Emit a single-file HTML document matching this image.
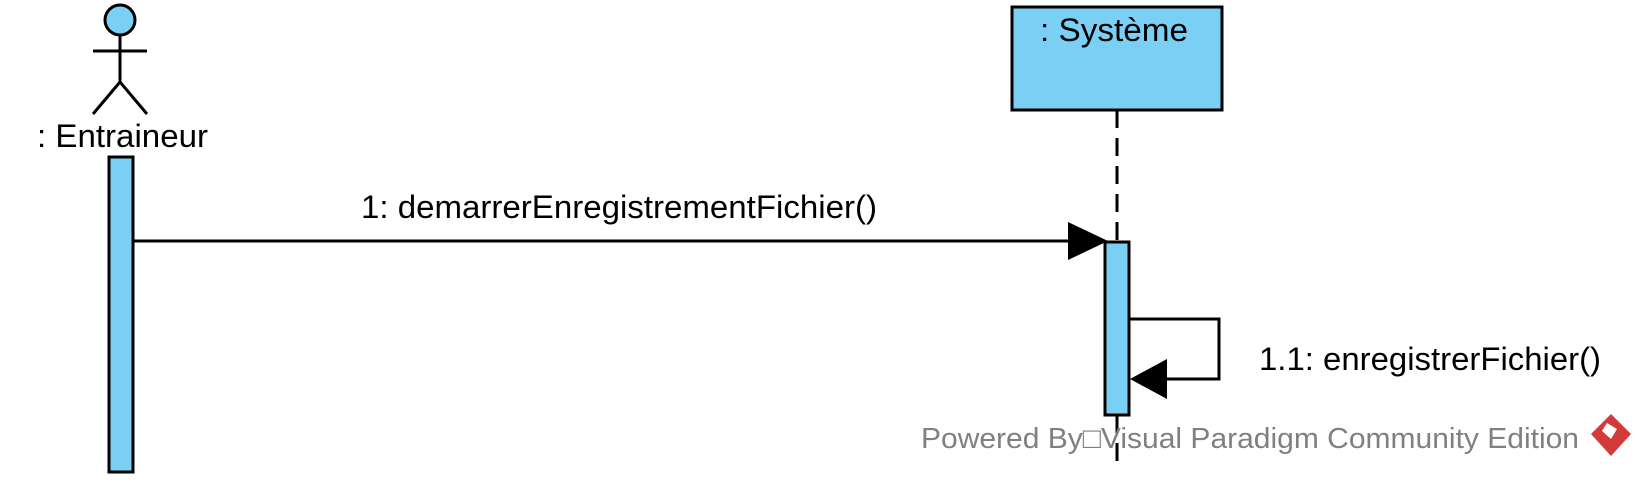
<!DOCTYPE html>
<html><head><meta charset="utf-8"><style>
html,body{margin:0;padding:0;background:#fff;}
svg{display:block;}
text{font-family:"Liberation Sans",Arial,sans-serif;}
</style></head><body>
<svg width="1647" height="486" viewBox="0 0 1647 486" xmlns="http://www.w3.org/2000/svg">
  <g stroke="#000" stroke-width="3" fill="none">
    <circle cx="120" cy="20" r="15" fill="#7acff5"/>
    <line x1="120" y1="35" x2="120" y2="82"/>
    <line x1="93" y1="51" x2="147" y2="51"/>
    <line x1="120" y1="82" x2="93" y2="114"/>
    <line x1="120" y1="82" x2="147" y2="114"/>
  </g>
  <text x="37" y="147" font-size="32" textLength="171" lengthAdjust="spacingAndGlyphs" fill="#000">: Entraineur</text>
  <rect x="109" y="157" width="24" height="315" fill="#7acff5" stroke="#000" stroke-width="3"/>

  <rect x="1012" y="7" width="210" height="103" fill="#7acff5" stroke="#000" stroke-width="3"/>
  <text x="1040" y="41" font-size="32" textLength="148" lengthAdjust="spacingAndGlyphs" fill="#000">: Système</text>
  <line x1="1117" y1="110" x2="1117" y2="242" stroke="#000" stroke-width="3" stroke-dasharray="18,10"/>
  <line x1="1117" y1="415" x2="1117" y2="468" stroke="#000" stroke-width="3" stroke-dasharray="18,10"/>

  <line x1="133" y1="241" x2="1075" y2="241" stroke="#000" stroke-width="3"/>
  <polygon points="1068,222 1108,241 1068,260" fill="#000"/>
  <text x="361" y="218" font-size="32" textLength="516" lengthAdjust="spacingAndGlyphs" fill="#000">1: demarrerEnregistrementFichier()</text>

  <rect x="1105" y="242" width="24" height="173" fill="#7acff5" stroke="#000" stroke-width="3"/>

  <polyline points="1129,319 1219,319 1219,379 1160,379" fill="none" stroke="#000" stroke-width="3"/>
  <polygon points="1167,359 1130,379 1167,399" fill="#000"/>
  <text x="1259" y="370" font-size="32" textLength="342" lengthAdjust="spacingAndGlyphs" fill="#000">1.1: enregistrerFichier()</text>

  <text x="921" y="448" font-size="29" textLength="658" lengthAdjust="spacingAndGlyphs" fill="#808080">Powered By□Visual Paradigm Community Edition</text>
  <g>
    <polygon points="1618,414 1638,434 1618,456 1598,434" fill="#d33a3a" transform="translate(-7,0)"/>
    <polygon points="1614,423 1624,429 1618,439 1609,431" fill="#fff" transform="translate(-7,0)"/>
  </g>
</svg>
</body></html>
